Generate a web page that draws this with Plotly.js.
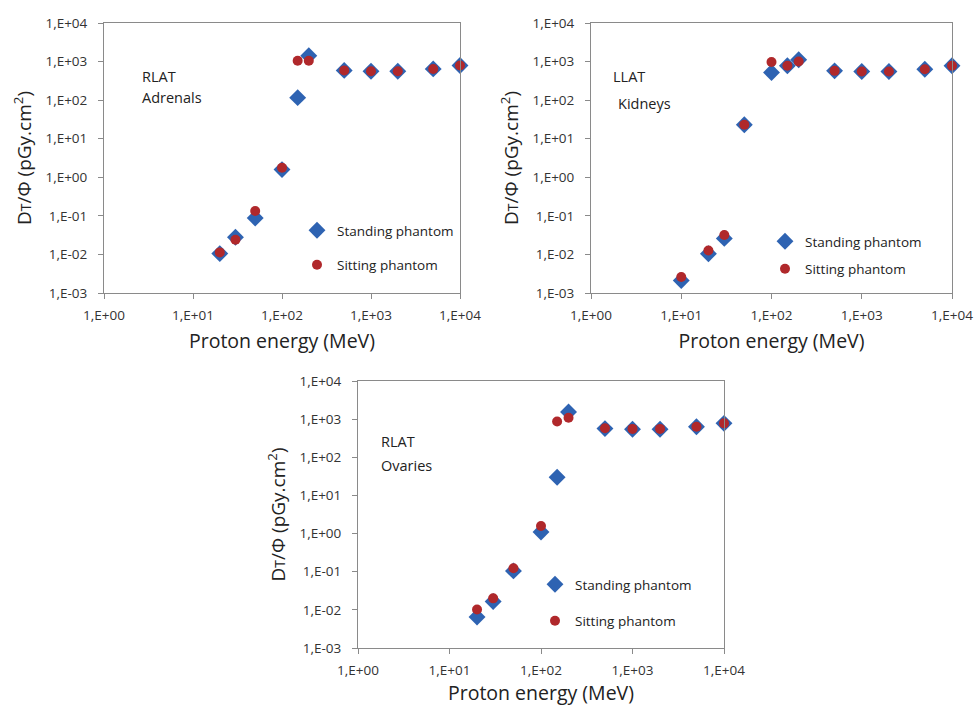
<!DOCTYPE html>
<html>
<head>
<meta charset="utf-8">
<script src="https://cdn.plot.ly/plotly-3.0.1.min.js"></script>
<style>html,body{margin:0;padding:0;background:#fff;}#chart{width:976px;height:706px;}</style>
</head>
<body>
<div id="chart"></div>
<script>
// Proton energies (MeV)
const energyAdrenals = [20, 30, 50, 100, 150, 200, 500, 1000, 2000, 5000, 10000];
const energyKidneys  = [10, 20, 30, 50, 100, 150, 200, 500, 1000, 2000, 5000, 10000];
const energyOvaries  = [20, 30, 50, 100, 150, 200, 500, 1000, 2000, 5000, 10000];

// RLAT Adrenals
const adrenalsStanding = [0.0105, 0.028, 0.088, 1.58, 116, 1420, 590, 560, 560, 645, 790];
const adrenalsSitting  = [0.0113, 0.024, 0.134, 1.77, 1050, 1050, 590, 560, 560, 645, 790];

// LLAT Kidneys
const kidneysStanding = [0.0021, 0.0104, 0.026, 23, 520, 780, 1110, 575, 555, 555, 630, 780];
const kidneysSitting  = [0.0026, 0.0126, 0.032, 23, 970, 780, 1000, 575, 555, 555, 630, 780];

// RLAT Ovaries
const ovariesStanding = [0.0065, 0.0166, 0.105, 1.1, 30, 1540, 565, 545, 545, 630, 775];
const ovariesSitting  = [0.0102, 0.020, 0.123, 1.58, 870, 1090, 580, 555, 555, 630, 775];

const xTickVals = [1, 10, 100, 1000, 10000];
const xTickText = ["1,E+00", "1,E+01", "1,E+02", "1,E+03", "1,E+04"];
const yTickVals = [0.001, 0.01, 0.1, 1, 10, 100, 1000, 10000];
const yTickText = ["1,E-03", "1,E-02", "1,E-01", "1,E+00", "1,E+01", "1,E+02", "1,E+03", "1,E+04"];

const seriesNames = ["Standing phantom", "Sitting phantom"];
const panelLabels = [["RLAT", "Adrenals"], ["LLAT", "Kidneys"], ["RLAT", "Ovaries"]];

const BLUE = "#2e63b2";
const RED = "#b0282b";
const FONT = "'Open Sans', 'Noto Sans', sans-serif";

function mk(x, y, xa, ya, lg, isStanding) {
  return {
    x: x, y: y, xaxis: xa, yaxis: ya, type: "scatter", mode: "markers",
    name: isStanding ? seriesNames[0] : seriesNames[1],
    legend: lg, legendgroup: lg + (isStanding ? "a" : "b"),
    cliponaxis: false,
    marker: isStanding
      ? {symbol: "diamond", size: 13, color: BLUE, line: {width: 0}}
      : {symbol: "circle", size: 10, color: RED, line: {width: 0}}
  };
}

const data = [
  mk(energyAdrenals, adrenalsStanding, "x", "y", "legend", true),
  mk(energyAdrenals, adrenalsSitting, "x", "y", "legend", false),
  mk(energyKidneys, kidneysStanding, "x2", "y2", "legend2", true),
  mk(energyKidneys, kidneysSitting, "x2", "y2", "legend2", false),
  mk(energyOvaries, ovariesStanding, "x3", "y3", "legend3", true),
  mk(energyOvaries, ovariesSitting, "x3", "y3", "legend3", false)
];

const yTitle = "D<span style='font-size:14px'>T</span>/Φ (pGy.cm<sup>2</sup>)";

function xax(domain, anchor) {
  return {
    type: "log", range: [0, 4], domain: domain, anchor: anchor,
    tickvals: xTickVals, ticktext: xTickText,
    showgrid: false, zeroline: false,
    showline: true, linecolor: "#8a8a8a", linewidth: 1, mirror: true,
    ticks: "outside", ticklen: 5, tickcolor: "#8a8a8a", ticklabelstandoff: 5,
    tickfont: {family: FONT, size: 13.5, color: "#333"},
    title: {text: "Proton energy (MeV)", font: {family: FONT, size: 19.5, color: "#222"}, standoff: 11}
  };
}
function yax(domain, anchor) {
  return {
    type: "log", range: [-3, 4], domain: domain, anchor: anchor,
    tickvals: yTickVals, ticktext: yTickText,
    showgrid: false, zeroline: false,
    showline: true, linecolor: "#8a8a8a", linewidth: 1, mirror: true,
    ticks: "outside", ticklen: 5, tickcolor: "#8a8a8a", ticklabelstandoff: 8,
    tickfont: {family: FONT, size: 13.5, color: "#333"},
    title: {text: yTitle, font: {family: FONT, size: 19, color: "#222"}, standoff: 8}
  };
}

function leg(x, y, gap) {
  return {
    x: x, y: y, xref: "paper", yref: "paper", xanchor: "left", yanchor: "top",
    bgcolor: "rgba(0,0,0,0)", borderwidth: 0,
    font: {family: FONT, size: 13.5, color: "#222"},
    tracegroupgap: gap, itemwidth: 30, traceorder: "grouped"
  };
}

const topDom = [1 - 293/706, 1 - 23/706];
const botDom = [1 - 648/706, 1 - 381/706];

function ann(px, py, text) {
  return {xref: "paper", yref: "paper", x: px / 976, y: 1 - py / 706, text: text, showarrow: false,
    xanchor: "left", yanchor: "middle", font: {family: FONT, size: 14.5, color: "#222"}};
}

const layout = {
  width: 976, height: 706,
  margin: {l: 0, r: 0, t: 0, b: 0},
  paper_bgcolor: "#fff", plot_bgcolor: "#fff",
  showlegend: true,
  xaxis: xax([104/976, 460/976], "y"),
  yaxis: yax(topDom, "x"),
  xaxis2: xax([591/976, 952/976], "y2"),
  yaxis2: yax(topDom, "x2"),
  xaxis3: xax([358/976, 724/976], "y3"),
  yaxis3: yax(botDom, "x3"),
  legend: leg(297/976, 1 - 215/706, 14),
  legend2: leg(765/976, 1 - 226/706, 7),
  legend3: leg(535/976, 1 - 569/706, 16),
  annotations: [
    ann(140, 77, panelLabels[0][0]),
    ann(140, 97, panelLabels[0][1]),
    ann(611, 77, panelLabels[1][0]),
    ann(616, 104, panelLabels[1][1]),
    ann(379, 441, panelLabels[2][0]),
    ann(379, 465, panelLabels[2][1])
  ]
};

Plotly.newPlot("chart", data, layout, {displayModeBar: false, staticPlot: true});
</script>
</body>
</html>
